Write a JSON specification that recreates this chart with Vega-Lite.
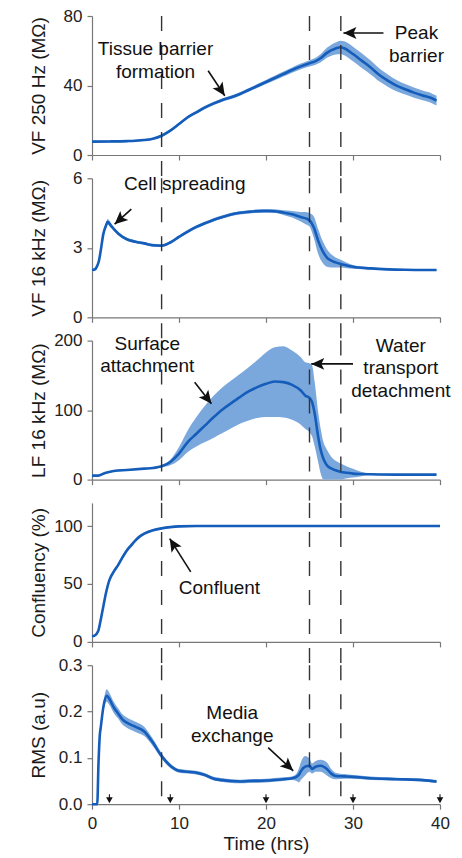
{
  "$schema": "https://vega.github.io/schema/vega-lite/v6.json",
  "background": "white",
  "padding": {"left": 28, "top": 7, "right": 5, "bottom": 5},
  "spacing": 23.3,
  "bounds": "flush",
  "config": {
    "view": {"stroke": null},
    "font": "Liberation Sans",
    "axis": {
      "grid": false,
      "domainColor": "#777777",
      "domainWidth": 1.2,
      "tickColor": "#777777",
      "tickWidth": 1.2,
      "tickSize": 5,
      "labelFont": "Liberation Sans",
      "labelFontSize": 17,
      "labelColor": "#222222",
      "labelFlush": false,
      "labelOverlap": false,
      "titleFont": "Liberation Sans",
      "titleFontSize": 19,
      "titleFontWeight": "normal",
      "titleColor": "#1a1a1a"
    },
    "axisY": {"labelPadding": 5, "minExtent": 40, "maxExtent": 40, "titlePadding": 4},
    "axisX": {"labelPadding": 6, "titlePadding": 3},
    "text": {"font": "Liberation Sans", "fontSize": 19, "color": "#111111", "align": "center", "baseline": "middle"}
  },
  "datasets": {
    "events": [{"t": 8}, {"t": 25}, {"t": 28.6}],
    "vf250": [
      {"t": 0, "m": 7.7, "lo": 7.1, "hi": 8.3},
      {"t": 2, "m": 7.8, "lo": 7.2, "hi": 8.4},
      {"t": 4, "m": 8.0, "lo": 7.4, "hi": 8.6},
      {"t": 5, "m": 8.2, "lo": 7.6, "hi": 8.8},
      {"t": 6, "m": 8.6, "lo": 8.0, "hi": 9.2},
      {"t": 7, "m": 9.4, "lo": 8.8, "hi": 10.0},
      {"t": 8, "m": 11.1, "lo": 10.4, "hi": 11.8},
      {"t": 9, "m": 14.0, "lo": 13.2, "hi": 14.8},
      {"t": 10, "m": 17.8, "lo": 17.0, "hi": 18.6},
      {"t": 11, "m": 21.7, "lo": 20.9, "hi": 22.5},
      {"t": 12, "m": 24.6, "lo": 23.7, "hi": 25.5},
      {"t": 13, "m": 27.4, "lo": 26.5, "hi": 28.3},
      {"t": 14, "m": 29.7, "lo": 28.8, "hi": 30.6},
      {"t": 15, "m": 31.7, "lo": 30.8, "hi": 32.6},
      {"t": 16, "m": 33.2, "lo": 32.2, "hi": 34.2},
      {"t": 17, "m": 35.1, "lo": 34.1, "hi": 36.1},
      {"t": 18, "m": 37.4, "lo": 36.4, "hi": 38.4},
      {"t": 19, "m": 39.7, "lo": 38.6, "hi": 40.8},
      {"t": 20, "m": 42.0, "lo": 40.8, "hi": 43.2},
      {"t": 21, "m": 44.3, "lo": 43.0, "hi": 45.6},
      {"t": 22, "m": 46.6, "lo": 45.2, "hi": 48.0},
      {"t": 23, "m": 48.9, "lo": 47.4, "hi": 50.4},
      {"t": 24, "m": 51.0, "lo": 49.4, "hi": 52.6},
      {"t": 25, "m": 52.8, "lo": 51.0, "hi": 54.6},
      {"t": 25.7, "m": 54.0, "lo": 52.0, "hi": 56.0},
      {"t": 26.3, "m": 55.8, "lo": 53.4, "hi": 58.2},
      {"t": 27, "m": 58.8, "lo": 55.9, "hi": 61.7},
      {"t": 28, "m": 61.3, "lo": 57.8, "hi": 64.8},
      {"t": 28.6, "m": 62.0, "lo": 58.2, "hi": 65.8},
      {"t": 29, "m": 61.4, "lo": 57.4, "hi": 65.4},
      {"t": 30, "m": 58.1, "lo": 53.9, "hi": 62.3},
      {"t": 31, "m": 54.3, "lo": 50.1, "hi": 58.5},
      {"t": 32, "m": 50.5, "lo": 46.5, "hi": 54.5},
      {"t": 33, "m": 46.2, "lo": 42.4, "hi": 50.0},
      {"t": 34, "m": 42.8, "lo": 39.3, "hi": 46.3},
      {"t": 35, "m": 39.9, "lo": 36.7, "hi": 43.1},
      {"t": 36, "m": 37.8, "lo": 34.8, "hi": 40.8},
      {"t": 37, "m": 35.9, "lo": 33.0, "hi": 38.8},
      {"t": 38, "m": 34.3, "lo": 31.5, "hi": 37.1},
      {"t": 39, "m": 32.8, "lo": 30.0, "hi": 35.6},
      {"t": 39.6, "m": 31.3, "lo": 28.5, "hi": 34.1}
    ],
    "vf16k": [
      {"t": 0, "m": 2.04, "lo": 1.98, "hi": 2.10},
      {"t": 0.3, "m": 2.06, "lo": 2.00, "hi": 2.12},
      {"t": 0.6, "m": 2.22, "lo": 2.15, "hi": 2.29},
      {"t": 0.8, "m": 2.44, "lo": 2.36, "hi": 2.52},
      {"t": 1.0, "m": 2.87, "lo": 2.77, "hi": 2.97},
      {"t": 1.3, "m": 3.59, "lo": 3.47, "hi": 3.71},
      {"t": 1.6, "m": 3.95, "lo": 3.83, "hi": 4.07},
      {"t": 1.8, "m": 4.12, "lo": 4.00, "hi": 4.24},
      {"t": 2.2, "m": 3.95, "lo": 3.85, "hi": 4.05},
      {"t": 2.6, "m": 3.77, "lo": 3.69, "hi": 3.85},
      {"t": 3, "m": 3.62, "lo": 3.55, "hi": 3.69},
      {"t": 4, "m": 3.37, "lo": 3.31, "hi": 3.43},
      {"t": 5, "m": 3.26, "lo": 3.20, "hi": 3.32},
      {"t": 6, "m": 3.19, "lo": 3.13, "hi": 3.25},
      {"t": 7, "m": 3.11, "lo": 3.05, "hi": 3.17},
      {"t": 8, "m": 3.09, "lo": 3.03, "hi": 3.15},
      {"t": 9, "m": 3.23, "lo": 3.17, "hi": 3.29},
      {"t": 10, "m": 3.47, "lo": 3.40, "hi": 3.54},
      {"t": 11, "m": 3.70, "lo": 3.63, "hi": 3.77},
      {"t": 12, "m": 3.90, "lo": 3.83, "hi": 3.97},
      {"t": 13, "m": 4.06, "lo": 3.99, "hi": 4.13},
      {"t": 14, "m": 4.21, "lo": 4.14, "hi": 4.28},
      {"t": 15, "m": 4.33, "lo": 4.26, "hi": 4.40},
      {"t": 16, "m": 4.44, "lo": 4.37, "hi": 4.51},
      {"t": 17, "m": 4.51, "lo": 4.44, "hi": 4.58},
      {"t": 18, "m": 4.55, "lo": 4.48, "hi": 4.62},
      {"t": 19, "m": 4.58, "lo": 4.50, "hi": 4.66},
      {"t": 20, "m": 4.59, "lo": 4.51, "hi": 4.67},
      {"t": 21, "m": 4.58, "lo": 4.50, "hi": 4.66},
      {"t": 22, "m": 4.52, "lo": 4.42, "hi": 4.62},
      {"t": 23, "m": 4.45, "lo": 4.31, "hi": 4.59},
      {"t": 24, "m": 4.33, "lo": 4.13, "hi": 4.55},
      {"t": 24.5, "m": 4.28, "lo": 4.03, "hi": 4.55},
      {"t": 25, "m": 4.19, "lo": 3.92, "hi": 4.50},
      {"t": 25.5, "m": 3.88, "lo": 3.42, "hi": 4.35},
      {"t": 26, "m": 3.30, "lo": 2.73, "hi": 3.80},
      {"t": 26.5, "m": 2.87, "lo": 2.35, "hi": 3.30},
      {"t": 27, "m": 2.58, "lo": 2.18, "hi": 2.94},
      {"t": 27.5, "m": 2.45, "lo": 2.15, "hi": 2.72},
      {"t": 28, "m": 2.37, "lo": 2.15, "hi": 2.58},
      {"t": 28.6, "m": 2.30, "lo": 2.15, "hi": 2.48},
      {"t": 29.3, "m": 2.24, "lo": 2.12, "hi": 2.36},
      {"t": 30, "m": 2.18, "lo": 2.10, "hi": 2.26},
      {"t": 32, "m": 2.11, "lo": 2.06, "hi": 2.16},
      {"t": 34, "m": 2.07, "lo": 2.03, "hi": 2.11},
      {"t": 36, "m": 2.05, "lo": 2.01, "hi": 2.09},
      {"t": 38, "m": 2.04, "lo": 2.00, "hi": 2.08},
      {"t": 39.6, "m": 2.04, "lo": 2.00, "hi": 2.08}
    ],
    "lf16k": [
      {"t": 0, "m": 5.7, "lo": 4.7, "hi": 6.7},
      {"t": 0.7, "m": 5.7, "lo": 4.7, "hi": 6.7},
      {"t": 1.5, "m": 9.6, "lo": 8.6, "hi": 10.6},
      {"t": 2.5, "m": 12.4, "lo": 11.4, "hi": 13.4},
      {"t": 4, "m": 13.9, "lo": 12.9, "hi": 14.9},
      {"t": 6, "m": 15.8, "lo": 14.8, "hi": 16.8},
      {"t": 7, "m": 16.7, "lo": 15.6, "hi": 17.8},
      {"t": 8, "m": 19.1, "lo": 17.5, "hi": 20.8},
      {"t": 9, "m": 25.4, "lo": 20.6, "hi": 28.5},
      {"t": 10, "m": 37.3, "lo": 27.8, "hi": 46.9},
      {"t": 11, "m": 54, "lo": 39.7, "hi": 70.8},
      {"t": 12, "m": 66, "lo": 47.8, "hi": 90},
      {"t": 13, "m": 78, "lo": 54, "hi": 106.7},
      {"t": 14, "m": 90, "lo": 60.3, "hi": 121},
      {"t": 15, "m": 101, "lo": 67, "hi": 133},
      {"t": 16, "m": 110, "lo": 74, "hi": 142.6},
      {"t": 17, "m": 118.7, "lo": 80.4, "hi": 152},
      {"t": 18, "m": 126.8, "lo": 85.2, "hi": 161.7},
      {"t": 19, "m": 133, "lo": 88.5, "hi": 172},
      {"t": 20, "m": 137.8, "lo": 90, "hi": 183},
      {"t": 21, "m": 141.1, "lo": 90, "hi": 190.4},
      {"t": 22, "m": 140.2, "lo": 89.5, "hi": 191.9},
      {"t": 23, "m": 136.4, "lo": 86, "hi": 185.6},
      {"t": 24, "m": 128.2, "lo": 79, "hi": 176},
      {"t": 24.5, "m": 121, "lo": 73, "hi": 169},
      {"t": 25, "m": 117.7, "lo": 68, "hi": 167.5},
      {"t": 25.3, "m": 111.5, "lo": 62, "hi": 164},
      {"t": 25.6, "m": 94.7, "lo": 48, "hi": 140},
      {"t": 26, "m": 61.2, "lo": 25, "hi": 97},
      {"t": 26.3, "m": 42, "lo": 8, "hi": 72},
      {"t": 26.6, "m": 30, "lo": 0, "hi": 54},
      {"t": 27, "m": 20.6, "lo": 0, "hi": 43},
      {"t": 27.5, "m": 16, "lo": 0, "hi": 33},
      {"t": 28, "m": 13.4, "lo": 0, "hi": 27},
      {"t": 28.6, "m": 11, "lo": 0, "hi": 23},
      {"t": 29.3, "m": 9.8, "lo": 2, "hi": 19},
      {"t": 30, "m": 8.6, "lo": 3, "hi": 15.5},
      {"t": 31, "m": 8.0, "lo": 5, "hi": 11},
      {"t": 32, "m": 7.7, "lo": 6.5, "hi": 9},
      {"t": 35, "m": 7.2, "lo": 6.2, "hi": 8.2},
      {"t": 39.6, "m": 7.2, "lo": 6.2, "hi": 8.2}
    ],
    "conf": [
      {"t": 0, "m": 4.9, "lo": 3.9, "hi": 5.9},
      {"t": 0.3, "m": 5.4, "lo": 4.4, "hi": 6.4},
      {"t": 0.7, "m": 9.1, "lo": 7.9, "hi": 10.3},
      {"t": 1, "m": 19, "lo": 17.5, "hi": 20.5},
      {"t": 1.3, "m": 30.6, "lo": 29, "hi": 32.2},
      {"t": 1.6, "m": 42, "lo": 40.3, "hi": 43.7},
      {"t": 2, "m": 53.4, "lo": 51.7, "hi": 55.1},
      {"t": 2.5, "m": 60.6, "lo": 58.9, "hi": 62.3},
      {"t": 3, "m": 66.3, "lo": 64.6, "hi": 68},
      {"t": 3.5, "m": 72.9, "lo": 71.2, "hi": 74.6},
      {"t": 4, "m": 79, "lo": 77.4, "hi": 80.6},
      {"t": 4.5, "m": 83.4, "lo": 81.9, "hi": 84.9},
      {"t": 5, "m": 87.7, "lo": 86.3, "hi": 89.1},
      {"t": 5.5, "m": 91.1, "lo": 89.9, "hi": 92.3},
      {"t": 6, "m": 93.4, "lo": 92.3, "hi": 94.5},
      {"t": 7, "m": 96.3, "lo": 95.4, "hi": 97.2},
      {"t": 8, "m": 98, "lo": 97.2, "hi": 98.8},
      {"t": 9, "m": 99.1, "lo": 98.4, "hi": 99.8},
      {"t": 10, "m": 99.7, "lo": 99, "hi": 100.4},
      {"t": 12, "m": 100, "lo": 99.3, "hi": 100.7},
      {"t": 20, "m": 100, "lo": 99.3, "hi": 100.7},
      {"t": 30, "m": 100, "lo": 99.3, "hi": 100.7},
      {"t": 40, "m": 100, "lo": 99.3, "hi": 100.7}
    ],
    "rms": [
      {"t": 0, "m": 0, "lo": 0, "hi": 0},
      {"t": 0.6, "m": 0, "lo": 0, "hi": 0},
      {"t": 0.75, "m": 0.09, "lo": 0.085, "hi": 0.095},
      {"t": 0.9, "m": 0.15, "lo": 0.143, "hi": 0.157},
      {"t": 1.0, "m": 0.165, "lo": 0.157, "hi": 0.173},
      {"t": 1.3, "m": 0.209, "lo": 0.199, "hi": 0.219},
      {"t": 1.7, "m": 0.234, "lo": 0.221, "hi": 0.248},
      {"t": 2, "m": 0.227, "lo": 0.214, "hi": 0.24},
      {"t": 2.5, "m": 0.209, "lo": 0.197, "hi": 0.221},
      {"t": 3, "m": 0.196, "lo": 0.185, "hi": 0.207},
      {"t": 3.5, "m": 0.183, "lo": 0.172, "hi": 0.194},
      {"t": 4, "m": 0.176, "lo": 0.165, "hi": 0.187},
      {"t": 5, "m": 0.167, "lo": 0.156, "hi": 0.178},
      {"t": 6, "m": 0.157, "lo": 0.147, "hi": 0.167},
      {"t": 7, "m": 0.133, "lo": 0.125, "hi": 0.141},
      {"t": 8, "m": 0.104, "lo": 0.098, "hi": 0.110},
      {"t": 9, "m": 0.083, "lo": 0.078, "hi": 0.088},
      {"t": 10, "m": 0.072, "lo": 0.068, "hi": 0.076},
      {"t": 11, "m": 0.070, "lo": 0.066, "hi": 0.074},
      {"t": 12, "m": 0.068, "lo": 0.064, "hi": 0.072},
      {"t": 13, "m": 0.063, "lo": 0.059, "hi": 0.067},
      {"t": 14, "m": 0.055, "lo": 0.051, "hi": 0.059},
      {"t": 15, "m": 0.052, "lo": 0.048, "hi": 0.056},
      {"t": 16, "m": 0.050, "lo": 0.046, "hi": 0.054},
      {"t": 17, "m": 0.049, "lo": 0.045, "hi": 0.053},
      {"t": 18, "m": 0.050, "lo": 0.046, "hi": 0.054},
      {"t": 20, "m": 0.051, "lo": 0.047, "hi": 0.055},
      {"t": 22, "m": 0.054, "lo": 0.050, "hi": 0.058},
      {"t": 23, "m": 0.056, "lo": 0.052, "hi": 0.060},
      {"t": 23.5, "m": 0.059, "lo": 0.050, "hi": 0.066},
      {"t": 23.8, "m": 0.064, "lo": 0.047, "hi": 0.078},
      {"t": 24, "m": 0.071, "lo": 0.052, "hi": 0.090},
      {"t": 24.5, "m": 0.081, "lo": 0.062, "hi": 0.104},
      {"t": 25, "m": 0.083, "lo": 0.070, "hi": 0.098},
      {"t": 25.3, "m": 0.076, "lo": 0.066, "hi": 0.088},
      {"t": 25.7, "m": 0.081, "lo": 0.070, "hi": 0.093},
      {"t": 26.3, "m": 0.083, "lo": 0.070, "hi": 0.096},
      {"t": 27, "m": 0.076, "lo": 0.062, "hi": 0.090},
      {"t": 27.5, "m": 0.066, "lo": 0.056, "hi": 0.076},
      {"t": 28, "m": 0.061, "lo": 0.054, "hi": 0.068},
      {"t": 29, "m": 0.060, "lo": 0.055, "hi": 0.065},
      {"t": 30, "m": 0.059, "lo": 0.055, "hi": 0.063},
      {"t": 32, "m": 0.056, "lo": 0.052, "hi": 0.060},
      {"t": 35, "m": 0.054, "lo": 0.051, "hi": 0.057},
      {"t": 38, "m": 0.052, "lo": 0.049, "hi": 0.055},
      {"t": 39.6, "m": 0.049, "lo": 0.046, "hi": 0.052}
    ],
    "samples": [{"t": 2}, {"t": 9}, {"t": 20}, {"t": 30}, {"t": 40}]
  },
  "vconcat": [
    {
      "width": 348,
      "height": 139,
      "encoding": {
        "x": {"field": "t", "type": "quantitative", "scale": {"domain": [0, 40], "nice": false},
              "axis": {"values": [0, 10, 20, 30, 40], "labels": false, "title": null}}
      },
      "layer": [
        {"data": {"name": "vf250"}, "mark": {"type": "area", "color": "#7ba8dc", "opacity": 1, "interpolate": "monotone"},
         "encoding": {"y": {"field": "lo", "type": "quantitative", "scale": {"domain": [0, 80]}, "axis": {"values": [0, 40, 80]}, "title": "VF 250 Hz (MΩ)"}, "y2": {"field": "hi"}}},
        {"data": {"name": "vf250"}, "mark": {"type": "line", "color": "#155dba", "strokeWidth": 2.6, "interpolate": "monotone"},
         "encoding": {"y": {"field": "m", "type": "quantitative", "title": "VF 250 Hz (MΩ)"}}},
        {"data": {"name": "events"}, "mark": {"type": "rule", "color": "#333333", "strokeWidth": 1.4, "strokeDash": [15, 14]},
         "encoding": {"y": {"datum": 80, "type": "quantitative", "title": "VF 250 Hz (MΩ)"}, "y2": {"datum": -13.4}}},
        {"data": {"values": [{"t": 13.35, "v": 48.5, "t2": 15.26, "v2": 34.1}]},
         "layer": [
           {"mark": {"type": "rule", "color": "#111111", "strokeWidth": 1.6},
            "encoding": {"y": {"field": "v", "type": "quantitative", "title": "VF 250 Hz (MΩ)"}, "x2": {"field": "t2"}, "y2": {"field": "v2"}}},
           {"mark": {"type": "point", "shape": "M0,0L-1,-0.46L-0.78,0L-1,0.46Z", "filled": true, "opacity": 1, "color": "#111111", "size": 676, "angle": 56.4},
            "encoding": {"x": {"field": "t2", "type": "quantitative"}, "y": {"field": "v2", "type": "quantitative", "title": "VF 250 Hz (MΩ)"}}}
         ]},
        {"data": {"values": [{"t": 33.5, "v": 70.2, "t2": 28.9, "v2": 70.2}]},
         "layer": [
           {"mark": {"type": "rule", "color": "#111111", "strokeWidth": 1.6},
            "encoding": {"y": {"field": "v", "type": "quantitative", "title": "VF 250 Hz (MΩ)"}, "x2": {"field": "t2"}, "y2": {"field": "v2"}}},
           {"mark": {"type": "point", "shape": "M0,0L-1,-0.46L-0.78,0L-1,0.46Z", "filled": true, "opacity": 1, "color": "#111111", "size": 676, "angle": 180},
            "encoding": {"x": {"field": "t2", "type": "quantitative"}, "y": {"field": "v2", "type": "quantitative", "title": "VF 250 Hz (MΩ)"}}}
         ]},
        {"data": {"values": [
          {"t": 7.3, "v": 61.0, "label": "Tissue barrier"},
          {"t": 7.3, "v": 47.8, "label": "formation"},
          {"t": 37.3, "v": 70.1, "label": "Peak"},
          {"t": 37.3, "v": 56.7, "label": "barrier"}
         ]},
         "mark": {"type": "text"},
         "encoding": {"y": {"field": "v", "type": "quantitative", "title": "VF 250 Hz (MΩ)"}, "text": {"field": "label"}}}
      ]
    },
    {
      "width": 348,
      "height": 139,
      "encoding": {
        "x": {"field": "t", "type": "quantitative", "scale": {"domain": [0, 40], "nice": false},
              "axis": {"values": [0, 10, 20, 30, 40], "labels": false, "title": null}}
      },
      "layer": [
        {"data": {"name": "vf16k"}, "mark": {"type": "area", "color": "#7ba8dc", "opacity": 1, "interpolate": "monotone"},
         "encoding": {"y": {"field": "lo", "type": "quantitative", "scale": {"domain": [0, 6]}, "axis": {"values": [0, 3, 6]}, "title": "VF 16 kHz (MΩ)"}, "y2": {"field": "hi"}}},
        {"data": {"name": "vf16k"}, "mark": {"type": "line", "color": "#155dba", "strokeWidth": 2.6, "interpolate": "monotone"},
         "encoding": {"y": {"field": "m", "type": "quantitative", "title": "VF 16 kHz (MΩ)"}}},
        {"data": {"name": "events"}, "mark": {"type": "rule", "color": "#333333", "strokeWidth": 1.4, "strokeDash": [15, 14]},
         "encoding": {"y": {"datum": 6, "type": "quantitative", "title": "VF 16 kHz (MΩ)"}, "y2": {"datum": -1.0}}},
        {"data": {"values": [{"t": 4.52, "v": 4.67, "t2": 2.6, "v2": 4.02}]},
         "layer": [
           {"mark": {"type": "rule", "color": "#111111", "strokeWidth": 1.6},
            "encoding": {"y": {"field": "v", "type": "quantitative", "title": "VF 16 kHz (MΩ)"}, "x2": {"field": "t2"}, "y2": {"field": "v2"}}},
           {"mark": {"type": "point", "shape": "M0,0L-1,-0.46L-0.78,0L-1,0.46Z", "filled": true, "opacity": 1, "color": "#111111", "size": 676, "angle": 138},
            "encoding": {"x": {"field": "t2", "type": "quantitative"}, "y": {"field": "v2", "type": "quantitative", "title": "VF 16 kHz (MΩ)"}}}
         ]},
        {"data": {"values": [{"t": 10.66, "v": 5.74, "label": "Cell spreading"}]},
         "mark": {"type": "text"},
         "encoding": {"y": {"field": "v", "type": "quantitative", "title": "VF 16 kHz (MΩ)"}, "text": {"field": "label"}}}
      ]
    },
    {
      "width": 348,
      "height": 139,
      "encoding": {
        "x": {"field": "t", "type": "quantitative", "scale": {"domain": [0, 40], "nice": false},
              "axis": {"values": [0, 10, 20, 30, 40], "labels": false, "title": null}}
      },
      "layer": [
        {"data": {"name": "lf16k"}, "mark": {"type": "area", "color": "#7ba8dc", "opacity": 1, "interpolate": "monotone"},
         "encoding": {"y": {"field": "lo", "type": "quantitative", "scale": {"domain": [0, 200]}, "axis": {"values": [0, 100, 200]}, "title": "LF 16 kHz (MΩ)"}, "y2": {"field": "hi"}}},
        {"data": {"name": "lf16k"}, "mark": {"type": "line", "color": "#155dba", "strokeWidth": 2.6, "interpolate": "monotone"},
         "encoding": {"y": {"field": "m", "type": "quantitative", "title": "LF 16 kHz (MΩ)"}}},
        {"data": {"name": "events"}, "mark": {"type": "rule", "color": "#333333", "strokeWidth": 1.4, "strokeDash": [15, 14]},
         "encoding": {"y": {"datum": 200, "type": "quantitative", "title": "LF 16 kHz (MΩ)"}, "y2": {"datum": -33.5}}},
        {"data": {"values": [{"t": 11.8, "v": 140.1, "t2": 13.73, "v2": 109.1}]},
         "layer": [
           {"mark": {"type": "rule", "color": "#111111", "strokeWidth": 1.6},
            "encoding": {"y": {"field": "v", "type": "quantitative", "title": "LF 16 kHz (MΩ)"}, "x2": {"field": "t2"}, "y2": {"field": "v2"}}},
           {"mark": {"type": "point", "shape": "M0,0L-1,-0.46L-0.78,0L-1,0.46Z", "filled": true, "opacity": 1, "color": "#111111", "size": 676, "angle": 52.3},
            "encoding": {"x": {"field": "t2", "type": "quantitative"}, "y": {"field": "v2", "type": "quantitative", "title": "LF 16 kHz (MΩ)"}}}
         ]},
        {"data": {"values": [{"t": 30.0, "v": 166.5, "t2": 25.2, "v2": 166.5}]},
         "layer": [
           {"mark": {"type": "rule", "color": "#111111", "strokeWidth": 1.6},
            "encoding": {"y": {"field": "v", "type": "quantitative", "title": "LF 16 kHz (MΩ)"}, "x2": {"field": "t2"}, "y2": {"field": "v2"}}},
           {"mark": {"type": "point", "shape": "M0,0L-1,-0.46L-0.78,0L-1,0.46Z", "filled": true, "opacity": 1, "color": "#111111", "size": 676, "angle": 180},
            "encoding": {"x": {"field": "t2", "type": "quantitative"}, "y": {"field": "v2", "type": "quantitative", "title": "LF 16 kHz (MΩ)"}}}
         ]},
        {"data": {"values": [
          {"t": 6.35, "v": 195.3, "label": "Surface"},
          {"t": 6.35, "v": 163.4, "label": "attachment"},
          {"t": 35.5, "v": 192.8, "label": "Water"},
          {"t": 35.5, "v": 160.8, "label": "transport"},
          {"t": 35.5, "v": 128.2, "label": "detachment"}
         ]},
         "mark": {"type": "text"},
         "encoding": {"y": {"field": "v", "type": "quantitative", "title": "LF 16 kHz (MΩ)"}, "text": {"field": "label"}}}
      ]
    },
    {
      "width": 348,
      "height": 139,
      "encoding": {
        "x": {"field": "t", "type": "quantitative", "scale": {"domain": [0, 40], "nice": false},
              "axis": {"values": [0, 10, 20, 30, 40], "labels": false, "title": null}}
      },
      "layer": [
        {"data": {"name": "conf"}, "mark": {"type": "area", "color": "#7ba8dc", "opacity": 1, "interpolate": "monotone"},
         "encoding": {"y": {"field": "lo", "type": "quantitative", "scale": {"domain": [0, 120]}, "axis": {"values": [0, 50, 100]}, "title": "Confluency (%)"}, "y2": {"field": "hi"}}},
        {"data": {"name": "conf"}, "mark": {"type": "line", "color": "#155dba", "strokeWidth": 2.6, "interpolate": "monotone"},
         "encoding": {"y": {"field": "m", "type": "quantitative", "title": "Confluency (%)"}}},
        {"data": {"name": "events"}, "mark": {"type": "rule", "color": "#333333", "strokeWidth": 1.4, "strokeDash": [15, 14]},
         "encoding": {"y": {"datum": 120, "type": "quantitative", "title": "Confluency (%)"}, "y2": {"datum": -20.1}}},
        {"data": {"values": [{"t": 11.35, "v": 60.5, "t2": 8.93, "v2": 89.2}]},
         "layer": [
           {"mark": {"type": "rule", "color": "#111111", "strokeWidth": 1.6},
            "encoding": {"y": {"field": "v", "type": "quantitative", "title": "Confluency (%)"}, "x2": {"field": "t2"}, "y2": {"field": "v2"}}},
           {"mark": {"type": "point", "shape": "M0,0L-1,-0.46L-0.78,0L-1,0.46Z", "filled": true, "opacity": 1, "color": "#111111", "size": 676, "angle": 237.8},
            "encoding": {"x": {"field": "t2", "type": "quantitative"}, "y": {"field": "v2", "type": "quantitative", "title": "Confluency (%)"}}}
         ]},
        {"data": {"values": [{"t": 14.65, "v": 46.3, "label": "Confluent"}]},
         "mark": {"type": "text"},
         "encoding": {"y": {"field": "v", "type": "quantitative", "title": "Confluency (%)"}, "text": {"field": "label"}}}
      ]
    },
    {
      "width": 348,
      "height": 139,
      "encoding": {
        "x": {"field": "t", "type": "quantitative", "scale": {"domain": [0, 40], "nice": false},
              "axis": {"values": [0, 10, 20, 30, 40], "title": "Time (hrs)"}}
      },
      "layer": [
        {"data": {"name": "rms"}, "mark": {"type": "area", "color": "#7ba8dc", "opacity": 1, "interpolate": "monotone"},
         "encoding": {"y": {"field": "lo", "type": "quantitative", "scale": {"domain": [0, 0.3]}, "axis": {"values": [0, 0.1, 0.2, 0.3]}, "title": "RMS (a.u)"}, "y2": {"field": "hi"}}},
        {"data": {"name": "rms"}, "mark": {"type": "line", "color": "#155dba", "strokeWidth": 2.6, "interpolate": "monotone"},
         "encoding": {"y": {"field": "m", "type": "quantitative", "title": "RMS (a.u)"}}},
        {"data": {"name": "events"}, "mark": {"type": "rule", "color": "#333333", "strokeWidth": 1.4, "strokeDash": [15, 14]},
         "encoding": {"y": {"datum": 0.3, "type": "quantitative", "title": "RMS (a.u)"}, "y2": {"datum": 0}}},
        {"data": {"name": "samples"}, "mark": {"type": "rule", "color": "#111111", "strokeWidth": 1.1},
         "encoding": {"y": {"datum": 0.0216, "type": "quantitative", "title": "RMS (a.u)"}, "y2": {"datum": 0.008}}},
        {"data": {"name": "samples"}, "mark": {"type": "point", "shape": "M0,0L-1,-0.55L-1,0.55Z", "filled": true, "opacity": 1, "color": "#111111", "size": 144, "angle": 90},
         "encoding": {"y": {"datum": 0.002, "type": "quantitative", "title": "RMS (a.u)"}}},
        {"data": {"values": [{"t": 20.25, "v": 0.122, "t2": 23.13, "v2": 0.072}]},
         "layer": [
           {"mark": {"type": "rule", "color": "#111111", "strokeWidth": 1.6},
            "encoding": {"y": {"field": "v", "type": "quantitative", "title": "RMS (a.u)"}, "x2": {"field": "t2"}, "y2": {"field": "v2"}}},
           {"mark": {"type": "point", "shape": "M0,0L-1,-0.46L-0.78,0L-1,0.46Z", "filled": true, "opacity": 1, "color": "#111111", "size": 676, "angle": 43},
            "encoding": {"x": {"field": "t2", "type": "quantitative"}, "y": {"field": "v2", "type": "quantitative", "title": "RMS (a.u)"}}}
         ]},
        {"data": {"values": [
          {"t": 16.12, "v": 0.196, "label": "Media"},
          {"t": 16.12, "v": 0.1463, "label": "exchange"}
         ]},
         "mark": {"type": "text"},
         "encoding": {"y": {"field": "v", "type": "quantitative", "title": "RMS (a.u)"}, "text": {"field": "label"}}}
      ]
    }
  ]
}
